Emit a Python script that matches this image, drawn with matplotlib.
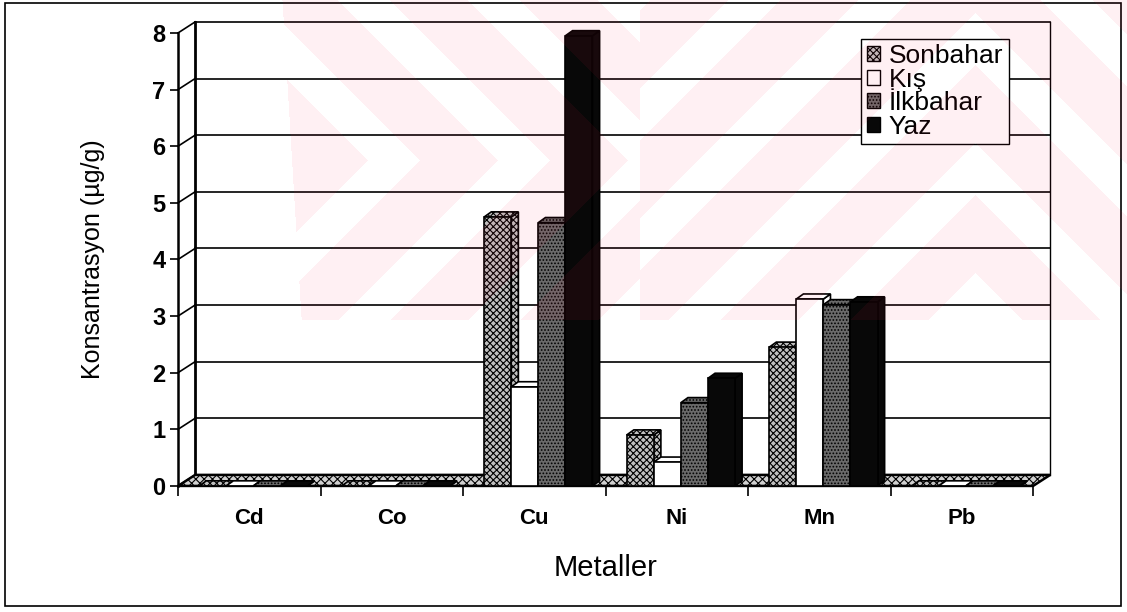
import numpy as np
import matplotlib
matplotlib.use('Agg')
import matplotlib.pyplot as plt
from matplotlib.patches import Polygon, Rectangle, Patch

plt.rcParams['font.family'] = ['Liberation Sans', 'DejaVu Sans']
plt.rcParams['hatch.linewidth'] = 0.8

# metal concentrations per season (µg/g)
metals = ['Cd', 'Co', 'Cu', 'Ni', 'Mn', 'Pb']
seasons = ['Sonbahar', 'Kış', 'İlkbahar', 'Yaz']
sonbahar = [0.0, 0.0, 4.75, 0.9, 2.45, 0.0]
kis = [0.0, 0.0, 1.75, 0.42, 3.3, 0.0]
ilkbahar = [0.0, 0.0, 4.65, 1.47, 3.2, 0.0]
yaz = [0.0, 0.0, 7.95, 1.9, 3.25, 0.0]
yticks = list(range(0, 9))

series = [sonbahar, kis, ilkbahar, yaz]
styles = {
    'Sonbahar': dict(facecolor='#c0c0c0', hatch='xxxxx'),
    'Kış': dict(facecolor='white'),
    'İlkbahar': dict(facecolor='#6a6a6a', hatch='.....'),
    'Yaz': dict(facecolor='#080808'),
}

fig = plt.figure(figsize=(11.27, 6.12), dpi=100)
ax = fig.add_axes([0.158, 0.206, 0.7587, 0.7402])
ax.set_xlim(0, len(metals))
ax.set_ylim(0, 8)
ax.patch.set_visible(False)

# pseudo 3d offsets (data units)
wall_dx, wall_dy = 0.12, 0.195
bar_dx, bar_dy = 0.05, 0.09
bar_w = 0.19
bar_start = 0.148
n = len(metals)

# floor
floor = Polygon([(0, 0), (n, 0), (n + wall_dx, wall_dy), (wall_dx, wall_dy)],
                closed=True, facecolor='#d0d0d0', hatch='xxxx', edgecolor='black',
                lw=1.8, clip_on=False, zorder=1)
ax.add_patch(floor)

# side wall + back wall grid
for k in yticks:
    ax.plot([0, wall_dx], [k, k + wall_dy], color='black', lw=1.2, clip_on=False, zorder=0.5)
    if k > 0:
        ax.plot([wall_dx, n + wall_dx], [k + wall_dy, k + wall_dy], color='black',
                lw=1.2, clip_on=False, zorder=0.5)
top = yticks[-1]
ax.plot([wall_dx, wall_dx], [wall_dy, top + wall_dy], color='black', lw=2, clip_on=False, zorder=0.6)
ax.plot([n + wall_dx, n + wall_dx], [wall_dy, top + wall_dy], color='black', lw=1, clip_on=False, zorder=0.6)


def bar3d(x0, h, style, z):
    kw = dict(edgecolor='black', lw=1.2, clip_on=False, zorder=z, **style)
    ax.add_patch(Polygon([(x0 + bar_w, 0), (x0 + bar_w + bar_dx, bar_dy),
                          (x0 + bar_w + bar_dx, h + bar_dy), (x0 + bar_w, h)], **kw))
    ax.add_patch(Polygon([(x0, h), (x0 + bar_w, h), (x0 + bar_w + bar_dx, h + bar_dy),
                          (x0 + bar_dx, h + bar_dy)], **kw))
    if h > 0:
        ax.add_patch(Rectangle((x0, 0), bar_w, h, **kw))


z = 3
for i in range(n):
    for j, s in enumerate(seasons):
        bar3d(i + bar_start + j * bar_w, series[j][i], styles[s], z)
        z += 0.01

# axes, ticks, labels
for side in ['top', 'right', 'bottom']:
    ax.spines[side].set_visible(False)
ax.spines['left'].set_linewidth(1.8)
ax.set_yticks(yticks)
ax.tick_params(axis='y', length=6, width=1.2, pad=3, labelsize=17)
ax.set_xticks(np.arange(n) + 0.5, metals)
ax.set_xticks(np.arange(n + 1), minor=True)
ax.tick_params(axis='x', which='major', length=0, pad=16, labelsize=16)
ax.tick_params(axis='x', which='minor', length=7, width=1.2, direction='out')
for lab in ax.get_xticklabels() + ax.get_yticklabels():
    lab.set_fontweight('bold')

ax.set_ylabel('Konsantrasyon (µg/g)', fontsize=18)
ax.yaxis.set_label_coords(-0.085, 0.5)
ax.set_xlabel('Metaller', fontsize=21)
ax.xaxis.set_label_coords(0.5, -0.15)

handles = [Patch(edgecolor='black', label=s, **styles[s]) for s in seasons]
leg = ax.legend(handles=handles, loc='upper left', bbox_to_anchor=(0.799, 0.987),
                fontsize=19, handlelength=0.5, handleheight=0.5, handletextpad=0.35,
                labelspacing=-0.02, borderpad=0.2, borderaxespad=0, fancybox=False,
                edgecolor='black', framealpha=1)
leg.get_frame().set_linewidth(1)

# outer frame
fig.patches.append(Rectangle((5 / 1127, 6 / 612), 1116 / 1127, 603 / 612, fill=False,
                             edgecolor='black', lw=1.2, transform=fig.transFigure))

# faint red watermark of chevron stripes
H, W = 612, 1127
v, u = np.mgrid[0:H, 0:W].astype(float)
P, S = 130, 78
left = np.where(v < 160, np.mod(u - v, P) < S, np.mod(u + v - 320, P) < S)
right = np.where(u < 975, np.mod(u + v, P) < S, np.mod(1950 - u + v, P) < S)
mask = np.where(u < 640, left, right)
mask &= (v < 320) & (u >= 282 + 0.06 * v)
rgba = np.zeros((H, W, 4))
rgba[..., 0] = 1.0
rgba[..., 1] = 0.15
rgba[..., 2] = 0.3
rgba[..., 3] = mask * 0.07
wm = fig.add_axes([0, 0, 1, 1], zorder=10)
wm.imshow(rgba, extent=(0, W, H, 0), aspect='auto', interpolation='nearest')
wm.set_xlim(0, W)
wm.set_ylim(H, 0)
wm.axis('off')

fig.savefig('out.png', dpi=100)
